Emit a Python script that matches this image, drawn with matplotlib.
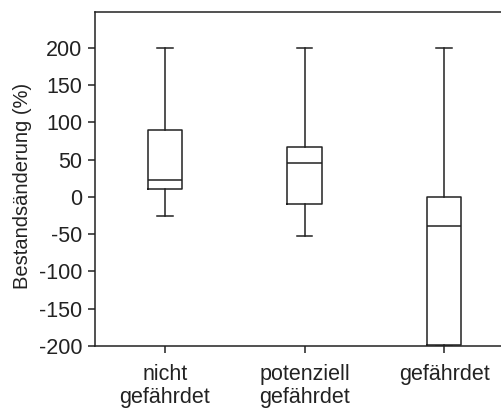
import matplotlib.pyplot as plt

# box plot stats
categories = ['nicht\ngefährdet', 'potenziell\ngefährdet', 'gefährdet']
whisker_low = [-26, -52, -200]
q1 = [10, -10, -198]
median = [23, 46, -39]
q3 = [90, 67, 0]
whisker_high = [200, 200, 200]
yticks = [-200, -150, -100, -50, 0, 50, 100, 150, 200]

plt.rcParams['font.family'] = ['Liberation Sans', 'DejaVu Sans']
plt.rcParams['font.size'] = 15.5

fig = plt.figure(figsize=(5.01, 4.08), dpi=100)
ax = fig.add_axes([95 / 501, 1 - 346 / 408, 419 / 501, 334 / 408])

stats = []
for i in range(len(categories)):
    stats.append({'whislo': whisker_low[i], 'q1': q1[i], 'med': median[i],
                  'q3': q3[i], 'whishi': whisker_high[i], 'fliers': []})

col = '#222222'
lw = 1.1
ax.bxp(stats, positions=[1, 2, 3], widths=0.245, showfliers=False,
       boxprops=dict(color=col, linewidth=lw),
       medianprops=dict(color=col, linewidth=lw),
       whiskerprops=dict(color=col, linewidth=lw),
       capprops=dict(color=col, linewidth=lw), capwidths=0.11)

ax.set_xlim(0.5, 3.5)
ax.set_ylim(-200, 248)
ax.set_yticks(yticks)
ax.set_yticklabels([str(v) for v in yticks])
ax.set_xticks([1, 2, 3])
ax.set_xticklabels(categories, linespacing=1.1)
ax.set_ylabel('Bestandsänderung (%)', color=col, fontsize=14.5)
ax.yaxis.set_label_coords(-0.15, 0.48)
for s in ax.spines.values():
    s.set_linewidth(lw)
    s.set_color(col)
ax.tick_params(colors=col, width=lw, length=5, direction='out', pad=4)
ax.tick_params(axis='x', pad=8)

plt.savefig('out.png', dpi=100)
